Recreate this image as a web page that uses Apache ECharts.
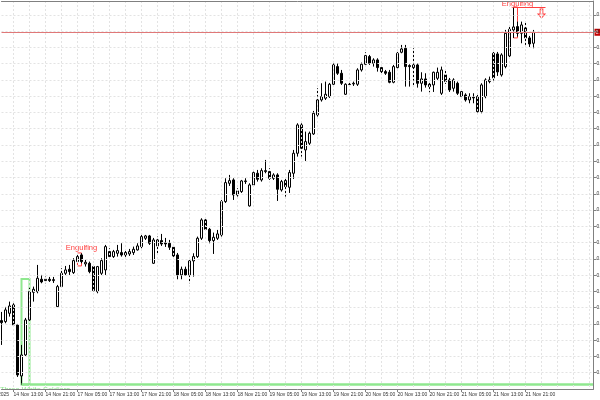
<!DOCTYPE html>
<html>
<head>
<meta charset="utf-8">
<script src="https://cdn.jsdelivr.net/npm/echarts@6/dist/echarts.min.js"></script>
<style>
  html, body { margin: 0; padding: 0; background: #fff; }
  #chart { width: 600px; height: 400px; }
</style>
</head>
<body>
<div id="chart"></div>
<script>
// hourly sessions on screen: day, first hour, last hour
const sessions = [
  ['14 Nov', 10, 23],
  ['17 Nov', 0, 23],
  ['18 Nov', 0, 23],
  ['19 Nov', 0, 23],
  ['20 Nov', 0, 23],
  ['21 Nov', 0, 23]
];
const emptySlots = 15; // free room right of the last bar

const opens = [
  0.80042,0.80039,0.80064,0.80089,0.80029,0.79876,0.79939,0.80044,0.80127,0.80129,
  0.80166,0.80162,0.80166,0.80162,0.80084,0.80144,0.80184,0.80196,0.80186,0.80219,
  0.80239,0.80212,0.80214,0.80204,0.80129,0.80184,0.80194,0.80249,0.80234,0.80244,
  0.80246,0.80246,0.80242,0.80246,0.80254,0.80264,0.80289,0.80296,0.80214,0.80266,
  0.80282,0.80275,0.80274,0.80262,0.80239,0.80179,0.80196,0.80179,0.80221,0.80234,
  0.80289,0.80344,0.80316,0.80282,0.80289,0.80299,0.80399,0.80454,0.80464,0.80419,
  0.80429,0.80459,0.80386,0.80449,0.80484,0.80464,0.80489,0.80489,0.80469,0.80479,
  0.80434,0.80462,0.80442,0.80484,0.80544,0.80629,0.80554,0.80574,0.80602,0.80659,
  0.80704,0.80709,0.80714,0.80751,0.80804,0.80784,0.80721,0.80751,0.80752,0.80751,
  0.80794,0.80811,0.80834,0.80814,0.80824,0.80801,0.80789,0.80787,0.80757,0.80801,
  0.80847,0.80859,0.80807,0.80801,0.80809,0.80754,0.80767,0.80751,0.80749,0.80769,
  0.80724,0.80779,0.80764,0.80739,0.80754,0.80714,0.80719,0.80704,0.80712,0.80714,
  0.80669,0.80714,0.80759,0.80844,0.80842,0.80779,0.80804,0.80836,0.80914,0.80924,
  0.80904,0.80920,0.80890,0.80874
];
const closes = [
  0.80036,0.80074,0.80086,0.80029,0.79879,0.79939,0.80044,0.80129,0.80136,0.80169,
  0.80158,0.80166,0.80162,0.80165,0.80144,0.80184,0.80194,0.80189,0.80222,0.80234,
  0.80219,0.80217,0.80189,0.80132,0.80204,0.80222,0.80264,0.80234,0.80249,0.80252,
  0.80239,0.80239,0.80249,0.80256,0.80266,0.80294,0.80296,0.80274,0.80284,0.80284,
  0.80272,0.80272,0.80262,0.80236,0.80179,0.80196,0.80179,0.80221,0.80234,0.80289,
  0.80344,0.80316,0.80282,0.80292,0.80302,0.80399,0.80456,0.80462,0.80419,0.80431,
  0.80461,0.80461,0.80449,0.80486,0.80466,0.80492,0.80492,0.80469,0.80479,0.80436,
  0.80459,0.80444,0.80486,0.80544,0.80629,0.80559,0.80579,0.80604,0.80664,0.80704,
  0.80714,0.80721,0.80751,0.80809,0.80784,0.80754,0.80751,0.80750,0.80754,0.80794,
  0.80811,0.80837,0.80814,0.80824,0.80801,0.80789,0.80784,0.80757,0.80804,0.80844,
  0.80857,0.80804,0.80804,0.80809,0.80754,0.80767,0.80749,0.80744,0.80787,0.80787,
  0.80794,0.80759,0.80734,0.80764,0.80724,0.80729,0.80704,0.80714,0.80710,0.80669,
  0.80749,0.80764,0.80764,0.80770,0.80788,0.80839,0.80904,0.80916,0.80923,0.80904,
  0.80929,0.80890,0.80872,0.80907
];
const lows = [
  0.79969,0.80034,0.80054,0.80024,0.79873,0.79849,0.79936,0.80041,0.80099,0.80124,
  0.80154,0.80154,0.80158,0.80155,0.80083,0.80143,0.80179,0.80179,0.80182,0.80215,
  0.80214,0.80204,0.80184,0.80129,0.80124,0.80179,0.80179,0.80229,0.80230,0.80234,
  0.80234,0.80233,0.80236,0.80239,0.80252,0.80259,0.80284,0.80269,0.80212,0.80244,
  0.80266,0.80263,0.80254,0.80233,0.80166,0.80166,0.80176,0.80154,0.80174,0.80230,
  0.80284,0.80311,0.80274,0.80242,0.80284,0.80294,0.80395,0.80446,0.80404,0.80414,
  0.80425,0.80452,0.80384,0.80446,0.80459,0.80459,0.80484,0.80464,0.80464,0.80401,
  0.80429,0.80414,0.80425,0.80467,0.80534,0.80534,0.80521,0.80569,0.80599,0.80654,
  0.80699,0.80704,0.80710,0.80746,0.80779,0.80749,0.80719,0.80743,0.80746,0.80746,
  0.80789,0.80809,0.80809,0.80804,0.80789,0.80781,0.80779,0.80754,0.80754,0.80799,
  0.80844,0.80744,0.80744,0.80744,0.80741,0.80729,0.80741,0.80727,0.80728,0.80764,
  0.80719,0.80752,0.80728,0.80729,0.80719,0.80709,0.80699,0.80694,0.80694,0.80659,
  0.80664,0.80709,0.80754,0.80758,0.80776,0.80774,0.80799,0.80830,0.80890,0.80894,
  0.80874,0.80869,0.80863,0.80859
];
const highs = [
  0.80068,0.80083,0.80099,0.80094,0.80032,0.79969,0.80050,0.80140,0.80144,0.80209,
  0.80179,0.80174,0.80173,0.80173,0.80149,0.80199,0.80206,0.80209,0.80229,0.80244,
  0.80244,0.80224,0.80219,0.80209,0.80206,0.80229,0.80269,0.80259,0.80254,0.80269,
  0.80274,0.80254,0.80257,0.80264,0.80274,0.80299,0.80299,0.80299,0.80290,0.80294,
  0.80302,0.80290,0.80284,0.80269,0.80245,0.80204,0.80204,0.80224,0.80244,0.80294,
  0.80349,0.80349,0.80320,0.80306,0.80314,0.80404,0.80469,0.80479,0.80469,0.80439,
  0.80464,0.80469,0.80454,0.80489,0.80494,0.80499,0.80524,0.80499,0.80484,0.80484,
  0.80464,0.80469,0.80494,0.80554,0.80634,0.80634,0.80609,0.80609,0.80671,0.80739,
  0.80754,0.80759,0.80755,0.80819,0.80814,0.80794,0.80754,0.80758,0.80759,0.80799,
  0.80816,0.80847,0.80839,0.80829,0.80829,0.80809,0.80794,0.80794,0.80809,0.80848,
  0.80869,0.80869,0.80811,0.80859,0.80814,0.80787,0.80784,0.80759,0.80789,0.80801,
  0.80804,0.80792,0.80770,0.80769,0.80759,0.80734,0.80724,0.80724,0.80724,0.80719,
  0.80754,0.80769,0.80774,0.80848,0.80848,0.80844,0.80914,0.80924,0.80983,0.80939,
  0.80939,0.80938,0.80896,0.80914
];

// price scale of the right axis
const yStep = 0.000488;
const yMin = 0.798368;
const yMax = 0.810008;

// pattern marks: [fromBar, toBar, topPrice, bottomPrice]
const engulfBoxes = [[19, 20, 0.80245, 0.80206], [128, 129, 0.80983, 0.80890]];
const engulfLabels = [[20, 0.80259], [129, 0.80991]];
const signalLine = [128, 136, 0.80983];
const signalArrow = [135, 0.80963];
const soldiersBox = [5, 7, 0.80167, 0.798505];
const soldiersBaseEnd = 148;

const categories = [];
sessions.forEach(([day, h0, h1]) => {
    for (let h = h0; h <= h1; h++) {
        categories.push(day + ' ' + String(h).padStart(2, '0') + ':00');
    }
});
const barCount = categories.length;
for (let k = 0; k < emptySlots; k++) categories.push('slot' + k);
const lastSlot = categories.length - 1;

const candles = opens.map((o, i) => [o, closes[i], lows[i], highs[i]]);
const bidPrice = closes[closes.length - 1];

const labelShown = (i) => i < barCount && (i - 3) % 8 === 0;
const gridShown = (i) => (i - 3) % 4 === 0;

const red = '#ff4040';
const green = '#8fe88f';
const axisGray = '#808080';
const gridGray = '#e3e3e3';

const chart = echarts.init(document.getElementById('chart'));
chart.setOption({
    animation: false,
    backgroundColor: '#fff',
    textStyle: { fontFamily: 'Liberation Sans' },
    grid: { left: 1.5, right: 6.5, top: 1, bottom: 11, containLabel: false, outerBoundsMode: 'none' },
    xAxis: [
        {
            type: 'category',
            data: categories,
            boundaryGap: false,
            z: 10,
            axisLine: { show: true, onZero: false, lineStyle: { color: axisGray, width: 1 } },
            axisTick: { interval: labelShown, length: 3, lineStyle: { color: axisGray } },
            axisLabel: {
                interval: labelShown,
                align: 'left',
                margin: 3,
                fontSize: 5,
                color: '#333'
            },
            splitLine: { show: true, interval: gridShown, lineStyle: { color: gridGray, type: [2, 2] } }
        },
        {
            type: 'category',
            data: categories,
            boundaryGap: false,
            position: 'top',
            z: 10,
            axisLine: { show: true, onZero: false, lineStyle: { color: axisGray, width: 1 } },
            axisTick: { show: false },
            axisLabel: { show: false },
            splitLine: { show: false }
        }
    ],
    yAxis: {
        type: 'value',
        position: 'right',
        min: yMin,
        max: yMax,
        interval: yStep,
        z: 10,
        axisLine: { show: true, lineStyle: { color: axisGray, width: 1 } },
        axisTick: { show: true, length: 3, lineStyle: { color: axisGray } },
        axisLabel: {
            margin: 3,
            fontSize: 5,
            color: '#333',
            showMinLabel: false,
            showMaxLabel: false,
            formatter: (v) => v.toFixed(5)
        },
        splitLine: { lineStyle: { color: gridGray, type: [2, 2] } }
    },
    series: [
        {
            type: 'candlestick',
            data: candles,
            barWidth: 2,
            clip: false,
            itemStyle: {
                color: '#ffffff',
                color0: '#000000',
                borderColor: '#000000',
                borderColor0: '#000000',
                borderColorDoji: '#000000',
                borderWidth: 1
            },
            markLine: {
                silent: true,
                symbol: ['none', 'none'],
                label: { show: false },
                data: [
                    [
                        {
                            coord: [0, bidPrice],
                            lineStyle: { color: '#e07878', width: 1, type: 'solid' },
                            label: {
                                show: true,
                                position: 'end',
                                distance: 1,
                                formatter: bidPrice.toFixed(5),
                                color: '#fff',
                                backgroundColor: '#c40000',
                                fontSize: 5,
                                padding: [1, 1]
                            }
                        },
                        { coord: [lastSlot, bidPrice] }
                    ],
                    [
                        { coord: [signalLine[0], signalLine[2]], lineStyle: { color: red, width: 1, type: 'solid' } },
                        { coord: [signalLine[1], signalLine[2]] }
                    ],
                    [
                        { coord: [soldiersBox[0], soldiersBox[3]], lineStyle: { color: green, width: 2.5, type: 'solid' } },
                        { coord: [soldiersBaseEnd, soldiersBox[3]] }
                    ]
                ]
            },
            markArea: {
                silent: true,
                label: { show: false },
                data: engulfBoxes.map((b) => [
                    { coord: [b[0], b[2]], itemStyle: { color: 'rgba(0,0,0,0)', borderColor: red, borderWidth: 1 } },
                    { coord: [b[1], b[3]] }
                ]).concat([[
                    { coord: [soldiersBox[0], soldiersBox[2]], itemStyle: { color: 'rgba(0,0,0,0)', borderColor: green, borderWidth: 2 } },
                    { coord: [soldiersBox[1], soldiersBox[3]] }
                ]])
            },
            markPoint: {
                silent: true,
                data: engulfLabels.map((p) => ({
                    coord: p,
                    symbol: 'rect',
                    symbolSize: 1,
                    itemStyle: { color: 'rgba(0,0,0,0)' },
                    label: { show: true, position: 'inside', formatter: 'Engulfing', color: red, fontSize: 7.5 }
                })).concat([{
                    coord: signalArrow,
                    symbol: 'path://M3,0 L7,0 L7,6 L10,6 L5,11 L0,6 L3,6 Z',
                    symbolSize: [7, 9],
                    itemStyle: { color: '#fff', borderColor: red, borderWidth: 1 },
                    label: { show: false }
                }])
            }
        }
    ],
    graphic: [
        {
            type: 'text',
            z: 3,
            style: { text: 'Three White Soldiers', x: 0, y: 385.5, verticalAlign: 'top', fill: green, fontSize: 7.5, fontFamily: 'Liberation Sans' }
        },
        {
            type: 'rect',
            z: 4,
            shape: { x: 0, y: 389.5, width: 80, height: 11 },
            style: { fill: '#fff' }
        },
        {
            type: 'text',
            z: 11,
            style: { text: '14 Nov 2025', x: 9, y: 392, align: 'right', verticalAlign: 'top', fill: '#333', fontSize: 5, fontFamily: 'Liberation Sans' }
        }
    ]
});
</script>
</body>
</html>
